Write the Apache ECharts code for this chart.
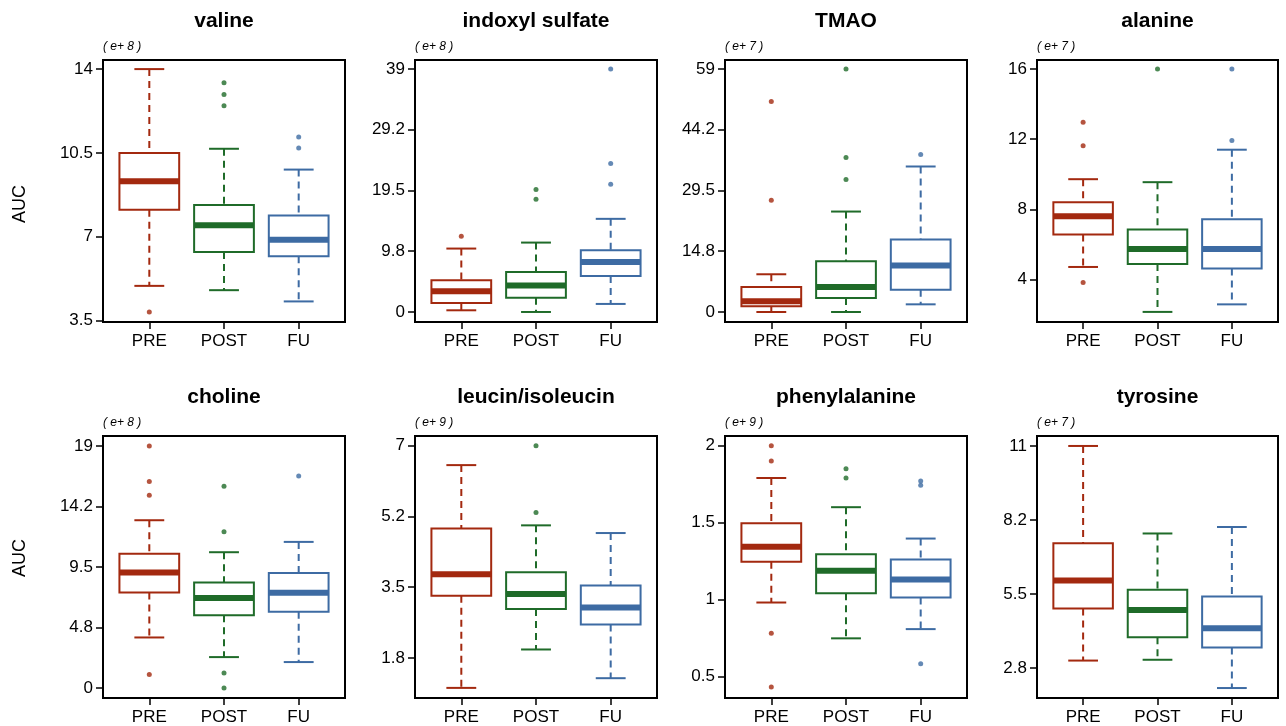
<!DOCTYPE html>
<html lang="en">
<head>
<meta charset="utf-8">
<title>AUC boxplots</title>
<style>
  html, body { margin: 0; padding: 0; background: #fff; }
  #chart { width: 1286px; height: 726px; }
</style>
</head>
<body>
<div id="chart"></div>
<script src="https://cdn.jsdelivr.net/npm/echarts@6.0.0/dist/echarts.min.js"></script>
<script>
// groups on the x axis
var groups = ['PRE', 'POST', 'FU'];

// box stats per group: [lower whisker, Q1, median, Q3, upper whisker]
var valineBox = [[4.94, 8.12, 9.31, 10.49, 14.0], [4.76, 6.36, 7.47, 8.32, 10.67], [4.29, 6.18, 6.87, 7.88, 9.80]];
var valineOut = [[3.85], [12.47, 12.94, 13.43], [10.70, 11.16]];
var valineTicks = [3.5, 7, 10.5, 14];
var valineLabels = ['3.5', '7', '10.5', '14'];

var indoxylBox = [[0.27, 1.45, 3.32, 5.09, 10.18], [0, 2.30, 4.23, 6.43, 11.14], [1.29, 5.79, 8.04, 9.91, 14.95]];
var indoxylOut = [[12.16], [18.11, 19.66], [20.52, 23.84, 39]];
var indoxylTicks = [0, 9.75, 19.5, 29.25, 39];
var indoxylLabels = ['0', '9.8', '19.5', '29.2', '39'];

var tmaoBox = [[0, 1.38, 2.59, 6.08, 9.16], [0, 3.40, 6.08, 12.32, 24.39], [1.86, 5.43, 11.27, 17.59, 35.33]];
var tmaoOut = [[27.15, 51.14], [32.17, 37.52, 59], [38.25]];
var tmaoTicks = [0, 14.75, 29.5, 44.25, 59];
var tmaoLabels = ['0', '14.8', '29.5', '44.2', '59'];

var alanineBox = [[4.72, 6.57, 7.61, 8.41, 9.72], [2.16, 4.89, 5.75, 6.85, 9.55], [2.59, 4.63, 5.75, 7.44, 11.40]];
var alanineOut = [[3.83, 11.63, 12.96], [16], [11.93, 16]];
var alanineTicks = [4, 8, 12, 16];
var alanineLabels = ['4', '8', '12', '16'];

var cholineBox = [[3.97, 7.50, 9.07, 10.53, 13.17], [2.43, 5.72, 7.06, 8.28, 10.66], [2.04, 5.98, 7.47, 9.02, 11.47]];
var cholineOut = [[1.07, 15.13, 16.20, 19], [0, 1.18, 12.26, 15.84], [16.65]];
var cholineTicks = [0, 4.75, 9.5, 14.25, 19];
var cholineLabels = ['0', '4.8', '9.5', '14.2', '19'];

var leucinBox = [[1.01, 3.29, 3.82, 4.95, 6.52], [1.96, 2.96, 3.33, 3.87, 5.03], [1.25, 2.58, 3.00, 3.54, 4.84]];
var leucinOut = [[], [5.35, 7], []];
var leucinTicks = [1.75, 3.5, 5.25, 7];
var leucinLabels = ['1.8', '3.5', '5.2', '7'];

var phenylBox = [[0.98, 1.245, 1.342, 1.496, 1.79], [0.747, 1.041, 1.186, 1.294, 1.60], [0.807, 1.013, 1.13, 1.26, 1.396]];
var phenylOut = [[0.43, 0.78, 1.90, 2.0], [1.79, 1.85], [0.582, 1.742, 1.77]];
var phenylTicks = [0.5, 1, 1.5, 2];
var phenylLabels = ['0.5', '1', '1.5', '2'];

var tyrosineBox = [[3.03, 4.96, 6.00, 7.39, 11.0], [3.06, 3.90, 4.91, 5.66, 7.75], [2.01, 3.52, 4.23, 5.41, 7.99]];
var tyrosineOut = [[], [], []];
var tyrosineTicks = [2.75, 5.5, 8.25, 11];
var tyrosineLabels = ['2.8', '5.5', '8.2', '11'];

var panels = [
  {name: 'valine', exp: '( e+ 8 )', box: valineBox, out: valineOut, ticks: valineTicks, labels: valineLabels, range: [3.43, 14.38]},
  {name: 'indoxyl sulfate', exp: '( e+ 8 )', box: indoxylBox, out: indoxylOut, ticks: indoxylTicks, labels: indoxylLabels, range: [-1.61, 40.45]},
  {name: 'TMAO', exp: '( e+ 7 )', box: tmaoBox, out: tmaoOut, ticks: tmaoTicks, labels: tmaoLabels, range: [-2.43, 61.19]},
  {name: 'alanine', exp: '( e+ 7 )', box: alanineBox, out: alanineOut, ticks: alanineTicks, labels: alanineLabels, range: [1.585, 16.51]},
  {name: 'choline', exp: '( e+ 8 )', box: cholineBox, out: cholineOut, ticks: cholineTicks, labels: cholineLabels, range: [-0.78, 19.78]},
  {name: 'leucin/isoleucin', exp: '( e+ 9 )', box: leucinBox, out: leucinOut, ticks: leucinTicks, labels: leucinLabels, range: [0.76, 7.24]},
  {name: 'phenylalanine', exp: '( e+ 9 )', box: phenylBox, out: phenylOut, ticks: phenylTicks, labels: phenylLabels, range: [0.359, 2.063]},
  {name: 'tyrosine', exp: '( e+ 7 )', box: tyrosineBox, out: tyrosineOut, ticks: tyrosineTicks, labels: tyrosineLabels, range: [1.64, 11.37]}
];

var colors = ['#a3290f', '#1f6b29', '#3d6ba3'];
var FONT = '"Liberation Sans", Arial, Helvetica, sans-serif';
var gridLefts = [103, 415, 725, 1037];
var gridTops = [60, 436];

function nearestLabel(v, ticks, labels) {
  for (var k = 0; k < ticks.length; k++) {
    if (Math.abs(ticks[k] - v) < 1e-6) return labels[k];
  }
  return '';
}

// draws one box: dashed whiskers, caps, box, thick median
function renderBox(params, api) {
  var x = api.value(0);
  var c = colors[params.dataIndex];
  var lo = api.coord([x, api.value(1)]);
  var q1 = api.coord([x, api.value(2)]);
  var med = api.coord([x, api.value(3)]);
  var q3 = api.coord([x, api.value(4)]);
  var hi = api.coord([x, api.value(5)]);
  var bl = api.coord([x - 0.4, 0])[0];
  var br = api.coord([x + 0.4, 0])[0];
  var cl = api.coord([x - 0.2, 0])[0];
  var cr = api.coord([x + 0.2, 0])[0];
  var cx = lo[0];
  var dash = {stroke: c, lineWidth: 2, lineDash: [7, 5]};
  var solid = {stroke: c, lineWidth: 2};
  return {
    type: 'group',
    children: [
      {type: 'line', shape: {x1: cx, y1: hi[1], x2: cx, y2: q3[1]}, style: dash},
      {type: 'line', shape: {x1: cx, y1: q1[1], x2: cx, y2: lo[1]}, style: dash},
      {type: 'line', shape: {x1: cl, y1: hi[1], x2: cr, y2: hi[1]}, style: solid},
      {type: 'line', shape: {x1: cl, y1: lo[1], x2: cr, y2: lo[1]}, style: solid},
      {type: 'rect', shape: {x: bl, y: q3[1], width: br - bl, height: q1[1] - q3[1]}, style: {fill: 'none', stroke: c, lineWidth: 2}},
      {type: 'line', shape: {x1: bl, y1: med[1], x2: br, y2: med[1]}, style: {stroke: c, lineWidth: 6}}
    ]
  };
}

var option = {
  animation: false,
  backgroundColor: '#fff',
  grid: [], xAxis: [], yAxis: [], series: [], graphic: []
};

panels.forEach(function (p, i) {
  var col = i % 4, row = Math.floor(i / 4);
  var left = gridLefts[col], top = gridTops[row];
  var width = col == 3 ? 241 : 242;
  option.grid.push({left: left, top: top, width: width, height: 262, show: true,
    borderColor: '#000', borderWidth: 2, backgroundColor: 'transparent'});
  option.xAxis.push({
    type: 'value', gridIndex: i, min: 0.38, max: 3.62,
    splitLine: {show: false},
    axisLine: {show: false, onZero: false},
    axisTick: {show: true, length: 7, customValues: [1, 2, 3], lineStyle: {color: '#000', width: 1.5}},
    axisLabel: {customValues: [1, 2, 3], margin: 11, color: '#000', fontSize: 17, fontFamily: FONT,
      formatter: function (v) { return groups[Math.round(v) - 1]; }}
  });
  option.yAxis.push({
    type: 'value', gridIndex: i, min: p.range[0], max: p.range[1],
    splitLine: {show: false},
    axisLine: {show: false, onZero: false},
    axisTick: {show: true, length: 7, customValues: p.ticks, lineStyle: {color: '#000', width: 1.5}},
    axisLabel: {customValues: p.ticks, margin: 10, color: '#000', fontSize: 17, fontFamily: FONT,
      formatter: function (v) { return nearestLabel(v, p.ticks, p.labels); }}
  });

  var boxData = p.box.map(function (b, g) { return [g + 1].concat(b); });
  option.series.push({
    type: 'custom', xAxisIndex: i, yAxisIndex: i, silent: true,
    renderItem: renderBox, data: boxData,
    encode: {x: 0, y: [1, 2, 3, 4, 5]}
  });

  var outData = [];
  p.out.forEach(function (vals, g) {
    vals.forEach(function (v) {
      outData.push({value: [g + 1, v], itemStyle: {color: colors[g]}});
    });
  });
  option.series.push({
    type: 'scatter', xAxisIndex: i, yAxisIndex: i, silent: true,
    symbol: 'circle', symbolSize: 5, data: outData
  });

  // panel title and exponent note
  option.graphic.push({type: 'text', x: left + width / 2, y: row == 0 ? 21 : 397,
    style: {text: p.name, fill: '#000', font: 'bold 21px ' + FONT, align: 'center', verticalAlign: 'middle'}});
  option.graphic.push({type: 'text', x: left, y: row == 0 ? 47 : 423,
    style: {text: p.exp, fill: '#000', font: 'italic 12px ' + FONT, align: 'left', verticalAlign: 'middle'}});
});

option.graphic.push({type: 'text', x: 20, y: 204, rotation: Math.PI / 2,
  style: {text: 'AUC', fill: '#000', font: '18px ' + FONT, align: 'center', verticalAlign: 'middle'}});
option.graphic.push({type: 'text', x: 20, y: 558, rotation: Math.PI / 2,
  style: {text: 'AUC', fill: '#000', font: '18px ' + FONT, align: 'center', verticalAlign: 'middle'}});

var myChart = echarts.init(document.getElementById('chart'));
myChart.setOption(option);
</script>
</body>
</html>
